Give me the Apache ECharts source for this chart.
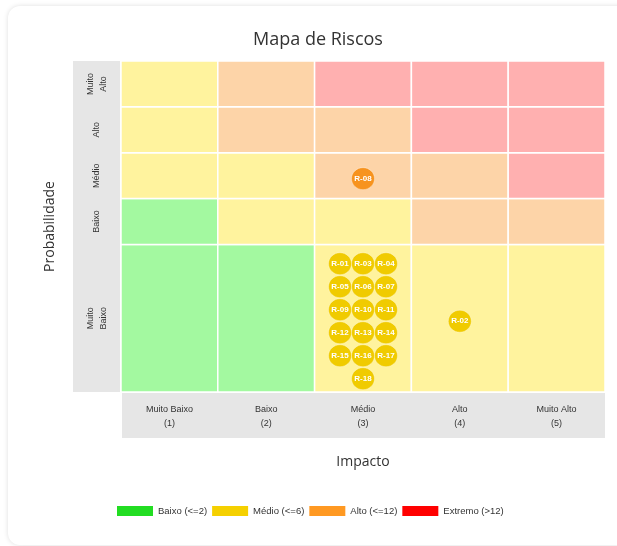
<!DOCTYPE html>
<html>
<head>
<meta charset="utf-8">
<script src="https://cdn.jsdelivr.net/npm/echarts@6/dist/echarts.min.js"></script>
<style>
    html, body { margin: 0; padding: 0; background: #fff; overflow: hidden; }
    .card {
        position: absolute; left: 8px; top: 6px; width: 640px; height: 539px;
        border-radius: 12px; box-shadow: 0 0 5px rgba(0, 0, 0, 0.13); background: #fff;
    }
    #chart { position: absolute; left: 0; top: 0; width: 617px; height: 546px; }
</style>
</head>
<body>
<div class="card"></div>
<div id="chart"></div>
<script>
const impactLabels = ['Muito Baixo\n(1)', 'Baixo\n(2)', 'Médio\n(3)', 'Alto\n(4)', 'Muito Alto\n(5)'];
const probLabels = ['Muito\nBaixo', 'Baixo', 'Médio', 'Alto', 'Muito\nAlto'];
const levelNames = ['Baixo (<=2)', 'Médio (<=6)', 'Alto (<=12)', 'Extremo (>12)'];
const levelMax = [2, 6, 12, Infinity];
const levelColors = ['#22dd22', '#f5d000', '#ff9922', '#ff0000'];
const cellColors = ['#a3f9a0', '#fff39e', '#fdd4a8', '#ffb0b0'];
const bubbleColors = ['#22cc22', '#f0cb00', '#f7931e', '#ee1111'];

const riskIds = ['R-01', 'R-02', 'R-03', 'R-04', 'R-05', 'R-06', 'R-07', 'R-08', 'R-09',
    'R-10', 'R-11', 'R-12', 'R-13', 'R-14', 'R-15', 'R-16', 'R-17', 'R-18'];
const riskImpact = [3, 4, 3, 3, 3, 3, 3, 3, 3, 3, 3, 3, 3, 3, 3, 3, 3, 3];
const riskProb = [1, 1, 1, 1, 1, 1, 1, 3, 1, 1, 1, 1, 1, 1, 1, 1, 1, 1];

const level = s => levelMax.findIndex(m => s <= m);

// bubble slots per cell (3 per line)
const perCell = {};
const slot = riskIds.map((id, k) => {
    const key = riskImpact[k] + '_' + riskProb[k];
    perCell[key] = (perCell[key] || 0) + 1;
    return perCell[key] - 1;
});
const PITCH = 23;
// row height grows with the number of bubble lines it holds
const rowH = [1, 2, 3, 4, 5].map(p => {
    let lines = 0;
    for (let i = 1; i <= 5; i++) lines = Math.max(lines, Math.ceil((perCell[i + '_' + p] || 0) / 3));
    return Math.max(46, 10 + PITCH * lines);
});
const rowStart = rowH.map((h, k) => rowH.slice(0, k).reduce((a, b) => a + b, 0));
const totalH = rowH.reduce((a, b) => a + b, 0);

const cells = [];
for (let p = 1; p <= 5; p++) for (let i = 1; i <= 5; i++) cells.push([i, p, i * p]);

function cellRect(i, p, api) {
    const a = api.coord([i - 1, rowStart[p - 1]]);
    const b = api.coord([i, rowStart[p - 1] + rowH[p - 1]]);
    return { x: a[0], y: b[1], width: b[0] - a[0], height: a[1] - b[1] };
}

const chart = echarts.init(document.getElementById('chart'));
const labelFont = { fill: '#333', fontSize: 9, fontFamily: 'Liberation Sans, Arial', lineHeight: 14, align: 'center', verticalAlign: 'middle' };

chart.setOption({
    animation: false,
    title: {
        text: 'Mapa de Riscos', left: 248, top: 26,
        textStyle: { fontSize: 18, fontWeight: 'normal', color: '#333', fontFamily: 'Open Sans' }
    },
    legend: {
        top: 506, left: 117, padding: 0, itemWidth: 36, itemHeight: 10, itemGap: 5,
        icon: 'rect',
        data: levelNames,
        textStyle: { fontSize: 9.5, color: '#333', fontFamily: 'Liberation Sans, Arial' }
    },
    grid: { left: 121, right: 12, top: 61, bottom: 154 },
    xAxis: {
        type: 'value', min: 0, max: 5,
        name: 'Impacto', nameLocation: 'middle', nameGap: 63,
        nameTextStyle: { fontSize: 14, color: '#333', fontFamily: 'Open Sans' },
        axisLine: { show: false }, axisTick: { show: false }, axisLabel: { show: false }, splitLine: { show: false }
    },
    yAxis: {
        type: 'value', min: 0, max: totalH,
        name: 'Probabilidade', nameLocation: 'middle', nameGap: 64,
        nameTextStyle: { fontSize: 14, color: '#333', fontFamily: 'Open Sans' },
        axisLine: { show: false }, axisTick: { show: false }, axisLabel: { show: false }, splitLine: { show: false }
    },
    series: [
        {
            type: 'custom', name: 'cells', silent: true,
            data: cells,
            renderItem: (params, api) => {
                const i = api.value(0), p = api.value(1), s = api.value(2);
                return {
                    type: 'rect', shape: cellRect(i, p, api),
                    style: { fill: cellColors[level(s)], stroke: '#fff', lineWidth: 1.5 }
                };
            }
        },
        {
            type: 'custom', name: 'labels', silent: true, clip: false,
            data: [0],
            renderItem: (params, api) => {
                const bl = api.coord([0, 0]), tr = api.coord([5, totalH]);
                const children = [
                    { type: 'rect', shape: { x: bl[0] + 1, y: bl[1] + 1, width: tr[0] - bl[0] - 1, height: 45 }, style: { fill: '#e6e6e6' } },
                    { type: 'rect', shape: { x: bl[0] - 48, y: tr[1], width: 47, height: bl[1] - tr[1] }, style: { fill: '#e6e6e6' } }
                ];
                impactLabels.forEach((t, k) => {
                    const c = api.coord([k + 0.5, 0]);
                    children.push({ type: 'text', x: c[0], y: bl[1] + 24.5, style: Object.assign({ text: t }, labelFont) });
                });
                probLabels.forEach((t, k) => {
                    const c = api.coord([0, rowStart[k] + rowH[k] / 2]);
                    children.push({ type: 'text', x: bl[0] - 24, y: c[1], rotation: Math.PI / 2, style: Object.assign({ text: t }, labelFont, { lineHeight: 13 }) });
                });
                return { type: 'group', children };
            }
        },
        {
            type: 'custom', name: 'riscos',
            data: riskIds.map((id, k) => [riskImpact[k], riskProb[k], k]),
            renderItem: (params, api) => {
                const i = api.value(0), p = api.value(1), k = api.value(2);
                const n = perCell[i + '_' + p];
                const lines = Math.ceil(n / 3);
                const line = Math.floor(slot[k] / 3), col = slot[k] % 3;
                const inLine = Math.min(3, n - line * 3);
                const c = api.coord([i - 0.5, rowStart[p - 1] + rowH[p - 1] / 2]);
                const x = c[0] + (col - (inLine - 1) / 2) * PITCH;
                const y = c[1] + 3 + (line - (lines - 1) / 2) * PITCH;
                return {
                    type: 'group',
                    children: [
                        { type: 'ellipse', shape: { cx: x, cy: y, rx: 11.5, ry: 11 },
                          style: { fill: bubbleColors[level(i * p)], stroke: 'rgba(255,255,255,0.35)', lineWidth: 1 } },
                        { type: 'text', x: x, y: y,
                          style: { text: riskIds[k], fill: '#fff', fontSize: 8, fontWeight: 'bold', fontFamily: 'Liberation Sans, Arial', align: 'center', verticalAlign: 'middle' } }
                    ]
                };
            }
        }
    ].concat(levelNames.map((n, k) => ({
        type: 'scatter', name: n, data: [], itemStyle: { color: levelColors[k], opacity: 1 }
    })))
});
</script>
</body>
</html>
